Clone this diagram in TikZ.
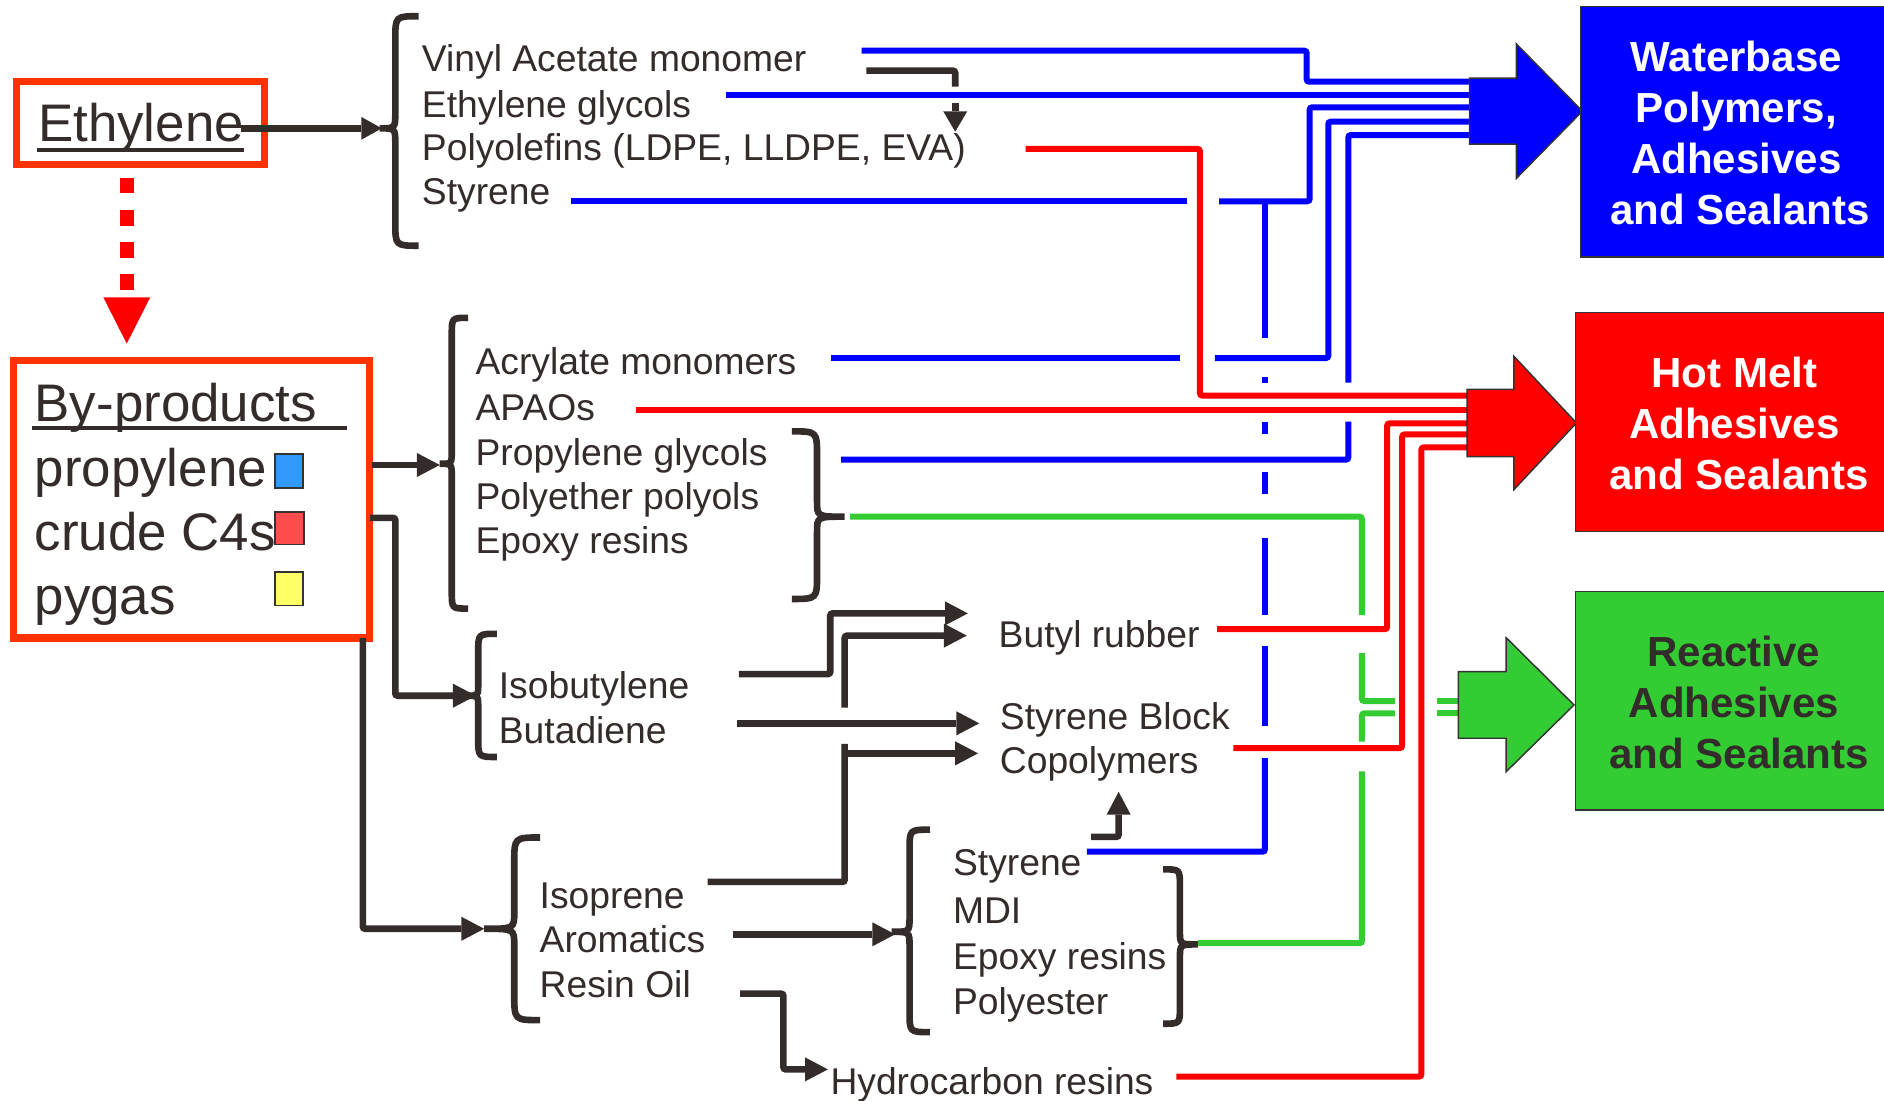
\documentclass[tikz,border=0pt]{standalone}
\usepackage{fontspec}
\setmainfont{Liberation Sans}
\usetikzlibrary{arrows.meta}
\definecolor{txt}{RGB}{51,44,43}
\definecolor{ored}{RGB}{255,51,0}
\definecolor{cblue}{RGB}{0,0,255}
\definecolor{cred}{RGB}{255,0,0}
\definecolor{cgreen}{RGB}{51,204,51}
\definecolor{sqblue}{RGB}{51,153,255}
\definecolor{sqred}{RGB}{255,77,77}
\definecolor{sqyel}{RGB}{255,255,102}
\definecolor{edgec}{RGB}{51,51,51}
\begin{document}
\begin{tikzpicture}[x=1pt,y=-1pt,
  lbl/.style={anchor=base west, inner sep=0pt, text=txt, font=\fontsize{31}{37}\selectfont},
  biglbl/.style={anchor=base west, inner sep=0pt, text=txt, font=\fontsize{44}{53}\selectfont},
  boxlbl/.style={anchor=base, inner sep=0pt, font=\fontsize{35}{42}\selectfont\bfseries},
  blackl/.style={draw=txt, line width=5.5pt, rounded corners=2pt},
  blackarr/.style={blackl, -{Triangle[length=19pt,width=20pt,line width=0pt]}},
  bracel/.style={draw=txt, line width=5.5pt},
  bluel/.style={draw=cblue, line width=5pt, rounded corners=2pt},
  redl/.style={draw=cred, line width=5pt, rounded corners=2pt},
  greenl/.style={draw=cgreen, line width=5pt, rounded corners=2pt},
  srcbox/.style={draw=ored, line width=6pt, inner sep=0pt},
  destbox/.style={draw=edgec, line width=1.2pt, inner sep=0pt},
  blockarrow/.style={draw=edgec, line width=1.2pt},
  sq/.style={draw=edgec, line width=1.2pt, inner sep=0pt}
]
\useasboundingbox (0,0) rectangle (1568,916);
\fill[white] (0,0) rectangle (1568,916);
\clip (0,0) rectangle (1568,916);

% ---------------- source boxes ----------------
\node[srcbox, minimum width=206pt, minimum height=69pt] (ethbox) at (117,102.5) {};
\node[biglbl] (eth) at (31.6,117.9) {Ethylene};
\draw[txt, line width=3.3pt] (30.5,124.8) -- (203,124.8);

\node[srcbox, minimum width=296pt, minimum height=231pt] (bpbox) at (159.5,415.5) {};
\node[biglbl] (bp) at (28.7,351) {By-products};
\draw[txt, line width=3.3pt] (27,356.5) -- (289,356.5);
\node[biglbl] (prop) at (28.7,404.5) {propylene};
\node[biglbl] (c4) at (28.7,458) {crude C4s};
\node[biglbl] (pyg) at (28.7,511.5) {pygas};
\node[sq, fill=sqblue, minimum width=23pt, minimum height=28pt] (sqb) at (240.5,392) {};
\node[sq, fill=sqred, minimum width=24pt, minimum height=27pt] (sqr) at (241,439.5) {};
\node[sq, fill=sqyel, minimum width=23pt, minimum height=28pt] (sqy) at (240.5,490) {};

% dashed red arrow
\coordinate (dA) at (105.5,148);
\coordinate (dB) at (105.5,247.5);
\coordinate (dC) at (105.5,286);
\draw[cred, line width=12pt, dash pattern=on 13pt off 13.7pt] (dA) -- (dB);
\fill[cred] (86,247.5) -- (125,247.5) -- (dC) -- cycle;

% ---------------- braces ----------------
\draw[bracel] (348.5,13.5) .. controls (329,13.5) .. (329,33) -- (329,93.8) .. controls (329,106.8) .. (316,106.8) .. controls (329,106.8) .. (329,119.8) -- (329,185) .. controls (329,204.5) .. (348.5,204.5);
\draw[bracel] (389.5,264.5) .. controls (376,264.5) .. (376,278.5) -- (376,375) .. controls (376,386) .. (366,386) .. controls (376,386) .. (376,397) -- (376,492.5) .. controls (376,506.5) .. (389.5,506.5);
\draw[bracel] (659,359) .. controls (680,359) .. (680,380) -- (680,417) .. controls (680,430) .. (703,430) .. controls (680,430) .. (680,443) -- (680,477.5) .. controls (680,498.5) .. (659,498.5);
\draw[bracel] (413.5,527.5) .. controls (398,527.5) .. (398,543) -- (398,569) .. controls (398,579) .. (389,579) .. controls (398,579) .. (398,589) -- (398,614.5) .. controls (398,630) .. (413.5,630);
\draw[bracel] (449.5,697) .. controls (428,697) .. (428,718.5) -- (428,759) .. controls (428,773) .. (403,773) .. controls (428,773) .. (428,787) -- (428,827.5) .. controls (428,849) .. (449.5,849);
\draw[bracel] (774,690.5) .. controls (757,690.5) .. (757,707.5) -- (757,763.5) .. controls (757,775.5) .. (742,775.5) .. controls (757,775.5) .. (757,787.5) -- (757,842) .. controls (757,859) .. (774,859);
\draw[bracel] (968,723.5) .. controls (982,723.5) .. (982,737.5) -- (982,775) .. controls (982,786) .. (997,786) .. controls (982,786) .. (982,797) -- (982,838) .. controls (982,852) .. (968,852);

% ---------------- labels ----------------
\node[lbl] (vam) at (351,59.5) {Vinyl Acetate monomer};
\node[lbl] (eg) at (351,97.5) {Ethylene glycols};
\node[lbl] (po) at (351,133.5) {Polyolefins (LDPE, LLDPE, EVA)};
\node[lbl] (sty1) at (351,170.5) {Styrene};
\node[lbl] (acr) at (395.6,311.8) {Acrylate monomers};
\node[lbl] (apao) at (395.6,349.8) {APAOs};
\node[lbl] (pg) at (395.6,387.3) {Propylene glycols};
\node[lbl] (pep) at (395.6,424.3) {Polyether polyols};
\node[lbl] (ep1) at (395.6,461) {Epoxy resins};
\node[lbl] (ib) at (415,581.5) {Isobutylene};
\node[lbl] (bd) at (415,618.5) {Butadiene};
\node[lbl] (ip) at (449,756.5) {Isoprene};
\node[lbl] (aro) at (449,793) {Aromatics};
\node[lbl] (ro) at (449,830) {Resin Oil};
\node[lbl] (br) at (831,538.5) {Butyl rubber};
\node[lbl] (sbc1) at (832,606.8) {Styrene Block};
\node[lbl] (sbc2) at (832,644) {Copolymers};
\node[lbl] (sty2) at (793,728.5) {Styrene};
\node[lbl] (mdi) at (793,769) {MDI};
\node[lbl] (ep2) at (793,807) {Epoxy resins};
\node[lbl] (pes) at (793,844) {Polyester};
\node[lbl] (hcr) at (691,911) {Hydrocarbon resins};

% ---------------- black connectors ----------------
\draw[blackl, -{Triangle[length=17pt,width=19pt,line width=0pt]}] (200.6,106.8) -- (317.7,106.8);
\draw[blackl] (721,58.8) -- (795,58.8) -- (795,72);
\draw[blackl, -{Triangle[length=17pt,width=20pt,line width=0pt]}] (795,86) -- (795,109.6);
\draw[blackarr] (310,387) -- (366,387);
\draw[blackarr] (308,431) -- (329,431) -- (329,579) -- (396,579);
\draw[blackarr] (302,531) -- (302,773) -- (403,773);
\draw[blackarr] (615,561) -- (691,561) -- (691,510.5) -- (805.5,510.5);
\draw[blackarr] (703,589) -- (703,529) -- (804.6,529);
\draw[blackarr] (613.6,602) -- (815,602);
\draw[blackl] (589,734) -- (703,734) -- (703,619);
\draw[blackarr] (703,627) -- (814,627);
\draw[blackarr] (610,777.6) -- (745,777.6);
\draw[blackarr] (616,827) -- (652,827) -- (652,890) -- (689,890);
\draw[blackarr] (908,696.5) -- (931,696.5) -- (931,659);

% ---------------- blue connectors ----------------
\draw[bluel] (1052.8,167.5) -- (1052.8,281.5);
\draw[bluel] (1052.8,313.5) -- (1052.8,318.5);
\draw[bluel] (1052.8,351) -- (1052.8,361.5);
\draw[bluel] (1052.8,392.6) -- (1052.8,411.4);
\draw[bluel] (1052.8,448) -- (1052.8,512);
\draw[bluel] (1052.8,538) -- (1052.8,604);
\draw[bluel] (1052.8,631) -- (1052.8,708.8) -- (904.6,708.8);

\draw[bluel] (717,42.2) -- (1087.5,42.2) -- (1087.5,68) -- (1223,68);
\draw[bluel] (604,79.4) -- (1223,79.4);
\draw[bluel] (475.4,167.5) -- (987.6,167.5);
\draw[bluel] (1014.6,167.5) -- (1090,167.5) -- (1090,89.3) -- (1223,89.3);
\draw[bluel] (692,298) -- (982,298);
\draw[bluel] (1011,298) -- (1105.5,298) -- (1105.5,101.3) -- (1223,101.3);
\draw[bluel] (700,382.5) -- (1122.2,382.5) -- (1122.2,351);
\draw[bluel] (1122.2,318.5) -- (1122.2,112.4) -- (1223,112.4);

% ---------------- green connectors ----------------
\draw[greenl] (707.5,430) -- (1133.5,430) -- (1133.5,512);
\draw[greenl] (1133.5,543.6) -- (1133.5,583.5) -- (1161,583.5);
\draw[greenl] (997,785) -- (1133.5,785) -- (1133.5,642);
\draw[greenl] (1133.5,617.3) -- (1133.5,593.7) -- (1161,593.7);
\draw[greenl] (1196,583.5) -- (1214,583.5);
\draw[greenl] (1196,593.7) -- (1214,593.7);

% ---------------- red connectors ----------------
\draw[redl] (853.6,124) -- (998.7,124) -- (998.7,329.3) -- (1221,329.3);
\draw[redl] (529,341.2) -- (1221,341.2);
\draw[redl] (1013,523.6) -- (1154.5,523.6) -- (1154.5,352.3) -- (1221,352.3);
\draw[redl] (1026.5,622.6) -- (1167,622.6) -- (1167,361.5) -- (1221,361.5);
\draw[redl] (979,896) -- (1183,896) -- (1183,372.3) -- (1221,372.3);

% ---------------- block arrows ----------------
\draw[blockarrow, fill=cblue] (1223,65) -- (1262,65) -- (1262,36.5) -- (1317,92.5) -- (1262,148.5) -- (1262,120) -- (1223,120) -- cycle;
\draw[blockarrow, fill=cred] (1221,324) -- (1260,324) -- (1260,296.5) -- (1312,352) -- (1260,407.5) -- (1260,380) -- (1221,380) -- cycle;
\draw[blockarrow, fill=cgreen] (1213.8,559) -- (1253.5,559) -- (1253.5,530.7) -- (1310,586.7) -- (1253.5,642.3) -- (1253.5,614.4) -- (1213.8,614.4) -- cycle;

% ---------------- destination boxes ----------------
\node[destbox, fill=cblue, minimum width=264.5pt, minimum height=208.5pt] (wbbox) at (1447.75,109.55) {};
\node[boxlbl, text=white] (wb1) at (1445,59.8) {Waterbase};
\node[boxlbl, text=white] (wb2) at (1445,102.2) {Polymers,};
\node[boxlbl, text=white] (wb3) at (1445,144.6) {Adhesives};
\node[boxlbl, text=white] (wb4) at (1448,187) {and Sealants};

\node[destbox, fill=cred, minimum width=268.6pt, minimum height=182.4pt] (hmbox) at (1445.7,351.2) {};
\node[boxlbl, text=white] (hm1) at (1443.5,322.8) {Hot Melt};
\node[boxlbl, text=white] (hm2) at (1443.5,365.3) {Adhesives};
\node[boxlbl, text=white] (hm3) at (1447.5,407.7) {and Sealants};

\node[destbox, fill=cgreen, minimum width=268.6pt, minimum height=181.7pt] (rabox) at (1445.7,583.35) {};
\node[boxlbl, text=txt] (ra1) at (1443,554.8) {Reactive};
\node[boxlbl, text=txt] (ra2) at (1443,597) {Adhesives};
\node[boxlbl, text=txt] (ra3) at (1447.5,639.3) {and Sealants};
\end{tikzpicture}
\end{document}
